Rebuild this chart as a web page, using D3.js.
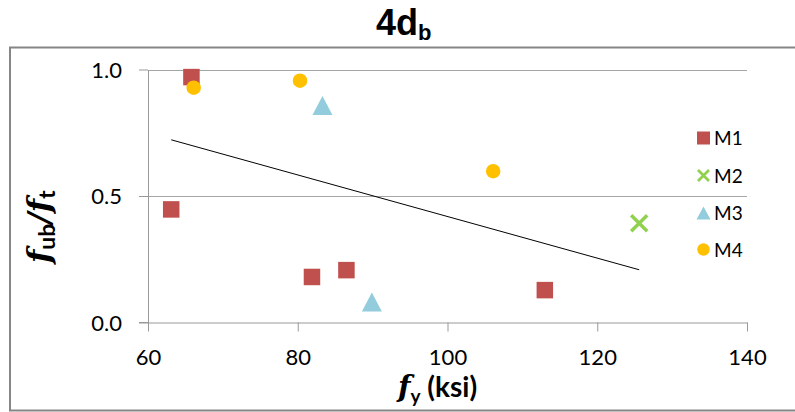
<!DOCTYPE html>
<html>
<head>
<meta charset="utf-8">
<script src="https://cdn.jsdelivr.net/npm/d3@7"></script>
<style>
  html, body { margin: 0; padding: 0; background: #fff; }
  svg { display: block; }
</style>
</head>
<body>
<svg id="chart" width="795" height="412"></svg>
<script>
// ---- data ----
const m1X = [65.8, 63.1, 81.9, 86.5, 113.0];
const m1Y = [0.970, 0.447, 0.180, 0.207, 0.128];
const m2X = [125.6];
const m2Y = [0.392];
const m3X = [83.3, 89.9];
const m3Y = [0.858, 0.081];
const m4X = [66.1, 80.3, 106.1];
const m4Y = [0.928, 0.956, 0.598];
const seriesNames = ["M1", "M2", "M3", "M4"];
const xTicks = [60, 80, 100, 120, 140];
const yTicks = [0.0, 0.5, 1.0];

const colors = { M1: "#C0504D", M2: "#92D050", M3: "#93CDDD", M4: "#FFC000" };

const svg = d3.select("#chart");
const x = d3.scaleLinear().domain([60, 140]).range([148, 747]);
const y = d3.scaleLinear().domain([0, 1]).range([322.5, 69.5]);

// outer chart border (right side cropped)
svg.append("rect").attr("x", 10).attr("y", 47.5).attr("width", 800).attr("height", 363)
  .attr("fill", "none").attr("stroke", "#868686").attr("stroke-width", 2);

// title
const title = svg.append("text").attr("x", 376).attr("y", 35)
  .attr("font-family", "Liberation Sans, Arial, sans-serif").attr("font-weight", "bold")
  .attr("font-size", 36).attr("fill", "#000");
title.append("tspan").text("4d");
title.append("tspan").attr("dy", 5).attr("font-size", 22).text("b");

// gridlines
svg.append("g").selectAll("line").data(yTicks.filter(t => t > 0)).join("line")
  .attr("x1", x(60)).attr("x2", x(140))
  .attr("y1", d => Math.round(y(d)) + 0.5).attr("y2", d => Math.round(y(d)) + 0.5)
  .attr("stroke", "#a6a6a6").attr("stroke-width", 1);

// y axis
const yAxis = d3.axisLeft(y).tickValues(yTicks).tickFormat(d3.format(".1f")).tickSize(9).tickSizeOuter(0);
const gy = svg.append("g").attr("transform", `translate(${x(60)},0)`).call(yAxis);
gy.select(".domain").attr("stroke", "#999");
gy.selectAll(".tick line").attr("stroke", "#999");
gy.selectAll(".tick text").attr("x", -26).attr("dy", "0.36em")
  .attr("font-family", "Lato, sans-serif").attr("font-size", 22).attr("fill", "#000");

// x axis
const xAxis = d3.axisBottom(x).tickValues(xTicks).tickSize(9).tickSizeOuter(0);
const gx = svg.append("g").attr("transform", `translate(0,${y(0)})`).call(xAxis);
gx.select(".domain").attr("stroke", "#999");
gx.selectAll(".tick line").attr("stroke", "#999");
gx.selectAll(".tick text").attr("y", 36).attr("dy", "0.3em")
  .attr("font-family", "Lato, sans-serif").attr("font-size", 22).attr("fill", "#000");
// extend x-axis line to meet y tick
svg.append("line").attr("x1", x(60) - 9).attr("x2", x(60)).attr("y1", y(0)).attr("y2", y(0)).attr("stroke", "#999");

// axis titles
const xl = svg.append("text").attr("x", 398).attr("y", 397)
  .attr("font-family", "Lato, sans-serif").attr("font-weight", "bold").attr("font-size", 28).attr("fill", "#000");
xl.append("tspan").attr("font-family", "DejaVu Serif, serif").attr("font-style", "italic").attr("font-size", 29).text("f");
xl.append("tspan").attr("dy", 6).attr("font-size", 19).text("y");
xl.append("tspan").attr("dy", -6).text(" (ksi)");

const yl = svg.append("text").attr("transform", "translate(50,263) rotate(-90)")
  .attr("font-family", "Lato, sans-serif").attr("font-weight", "bold").attr("font-size", 26).attr("fill", "#000");
yl.append("tspan").attr("font-family", "DejaVu Serif, serif").attr("font-style", "italic").attr("font-size", 31).text("f");
yl.append("tspan").attr("dy", 5).attr("font-size", 23).text("ub");
yl.append("tspan").attr("dy", -5).attr("font-family", "DejaVu Serif, serif").attr("font-style", "italic").attr("font-size", 31).text("/f");
yl.append("tspan").attr("dy", 5).attr("font-size", 23).text("t");

// trendline (linear least squares over all points, as spreadsheet trendline)
const allX = [...m1X, ...m2X, ...m3X, ...m4X];
const allY = [...m1Y, ...m2Y, ...m3Y, ...m4Y];
const mx = d3.mean(allX), my = d3.mean(allY);
const slope = d3.sum(allX.map((v, i) => (v - mx) * (allY[i] - my))) / d3.sum(allX.map(v => (v - mx) ** 2));
const icpt = my - slope * mx;
const [xmin, xmax] = d3.extent(allX);
svg.append("line")
  .attr("x1", x(xmin)).attr("y1", y(icpt + slope * xmin))
  .attr("x2", x(xmax)).attr("y2", y(icpt + slope * xmax))
  .attr("stroke", "#000").attr("stroke-width", 1);

// marker drawing helpers
function square(g, s, c) { g.append("rect").attr("x", -s/2).attr("y", -s/2).attr("width", s).attr("height", s).attr("fill", c); }
function circle(g, s, c) { g.append("circle").attr("r", s/2).attr("fill", c); }
function tri(g, w, h, c) { g.append("path").attr("d", `M0,${-h/2}L${w/2},${h/2}L${-w/2},${h/2}Z`).attr("fill", c); }
function cross(g, s, c, sw) {
  g.append("path").attr("d", `M${-s/2},${-s/2}L${s/2},${s/2}M${s/2},${-s/2}L${-s/2},${s/2}`)
    .attr("stroke", c).attr("stroke-width", sw).attr("fill", "none");
}

const plot = svg.append("g");
m1X.forEach((v, i) => square(plot.append("g").attr("transform", `translate(${x(v)},${y(m1Y[i])})`), 16.5, colors.M1));
m3X.forEach((v, i) => tri(plot.append("g").attr("transform", `translate(${x(v)},${y(m3Y[i])})`), 20, 19, colors.M3));
m4X.forEach((v, i) => circle(plot.append("g").attr("transform", `translate(${x(v)},${y(m4Y[i])})`), 14.5, colors.M4));
m2X.forEach((v, i) => cross(plot.append("g").attr("transform", `translate(${x(v)},${y(m2Y[i])})`), 16, colors.M2, 3.5));

// legend
const legY = [138, 175.5, 213, 249.5];
seriesNames.forEach((name, i) => {
  const g = svg.append("g").attr("transform", `translate(703.5,${legY[i]})`);
  if (name === "M1") square(g, 13, colors.M1);
  if (name === "M2") cross(g, 11, colors.M2, 2.8);
  if (name === "M3") tri(g, 14, 13, colors.M3);
  if (name === "M4") circle(g, 12.5, colors.M4);
  g.append("text").attr("x", 10.5).attr("y", 7).text(name)
    .attr("font-family", "Lato, sans-serif").attr("font-size", 19).attr("fill", "#000");
});
</script>
</body>
</html>
